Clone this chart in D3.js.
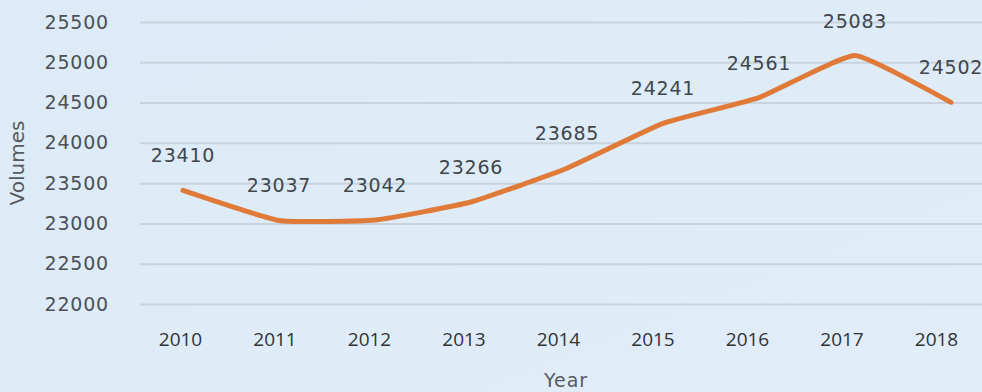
<!DOCTYPE html>
<html>
<head>
<meta charset="utf-8">
<script src="https://cdn.jsdelivr.net/npm/d3@7/dist/d3.min.js"></script>
<style>
  html, body { margin: 0; padding: 0; background: #dde9f6; }
  svg { display: block; }
</style>
</head>
<body>
<svg id="chart" width="982" height="392"></svg>
<script>
// Yearly volumes
const years = ["2010", "2011", "2012", "2013", "2014", "2015", "2016", "2017", "2018"];
const volumes = [23410, 23037, 23042, 23266, 23685, 24241, 24561, 25083, 24502];
const yTicks = [22000, 22500, 23000, 23500, 24000, 24500, 25000, 25500];

const W = 982, H = 392;
const plotTop = 22, plotBottom = 304, gridLeft = 140;
const svg = d3.select("#chart");

// soft blue backdrop
const defs = svg.append("defs");
const grad = defs.append("linearGradient").attr("id", "bg").attr("x1", 0).attr("y1", 0).attr("x2", 1).attr("y2", 1);
grad.append("stop").attr("offset", "0%").attr("stop-color", "#dcebf7");
grad.append("stop").attr("offset", "100%").attr("stop-color", "#e1edf9");
svg.append("rect").attr("width", W).attr("height", H).attr("fill", "url(#bg)");

// category positions: one scale for the plotted points, one for the axis labels
const xPoint = d3.scalePoint().domain(years).range([183, 951]);
const xLabel = d3.scalePoint().domain(years).range([180, 936]);
const y = d3.scaleLinear().domain([22000, 25500]).range([plotBottom, plotTop]);

const sans = "'DejaVu Sans', sans-serif";
const open = "'Open Sans', 'Liberation Sans', sans-serif";

// horizontal gridlines with value labels
const yAxis = d3.axisLeft(y).tickValues(yTicks).tickSize(-(W - gridLeft)).tickPadding(31).tickFormat(d3.format("d"));
const gy = svg.append("g").attr("transform", `translate(${gridLeft},0)`).call(yAxis);
gy.select(".domain").remove();
gy.selectAll(".tick line").attr("stroke", "#c8d3de").attr("stroke-width", 2);
gy.selectAll(".tick text").attr("fill", "#4b5056").style("font-family", sans)
  .style("font-size", "19px").style("letter-spacing", "0.8px");

// year labels
const xAxis = d3.axisBottom(xLabel).tickSize(0).tickPadding(29);
const gx = svg.append("g").attr("transform", `translate(0,${plotBottom})`).call(xAxis);
gx.select(".domain").remove();
gx.selectAll(".tick text").attr("fill", "#2e3338").style("font-family", open).style("font-size", "19px");

// axis titles
svg.append("text").attr("x", 566).attr("y", 387).attr("text-anchor", "middle")
  .attr("fill", "#555a60").style("font-family", sans).style("font-size", "19px")
  .style("letter-spacing", "1px").text("Year");
svg.append("text").attr("transform", "translate(24,163) rotate(-90)").attr("text-anchor", "middle")
  .attr("fill", "#555a60").style("font-family", sans).style("font-size", "20px").text("Volumes");

// the series line
const line = d3.line().x((d, i) => xPoint(years[i])).y(d => y(d)).curve(d3.curveCardinal.tension(0.6));
svg.append("path").datum(volumes).attr("d", line)
  .attr("fill", "none").attr("stroke", "#e07a38").attr("stroke-width", 5)
  .attr("stroke-linecap", "round").attr("stroke-linejoin", "round");

// value labels above each point
svg.append("g").selectAll("text").data(volumes).join("text")
  .attr("x", (d, i) => xPoint(years[i]))
  .attr("y", d => y(d) - 28)
  .attr("text-anchor", "middle")
  .attr("fill", "#41464c").style("font-family", sans).style("font-size", "19px")
  .style("letter-spacing", "0.8px")
  .text(d => d);
</script>
</body>
</html>
